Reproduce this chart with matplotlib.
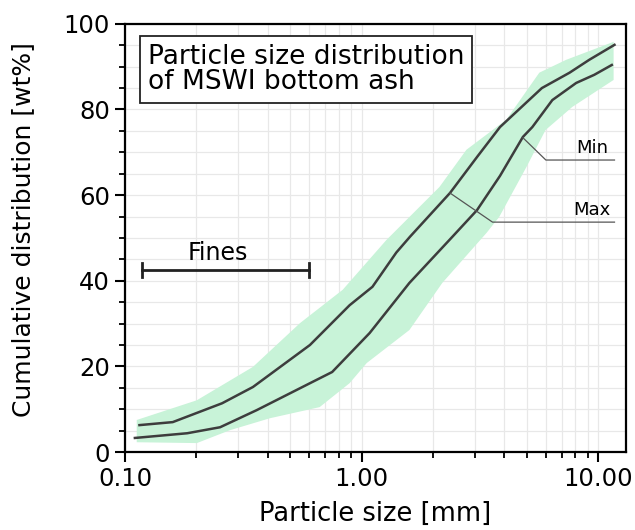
import numpy as np
import matplotlib
matplotlib.use("Agg")
import matplotlib.pyplot as plt
from matplotlib.ticker import FixedLocator, MultipleLocator, FuncFormatter, LogLocator

# curves
max_x = [0.115, 0.159, 0.257, 0.347, 0.604, 0.889, 1.11, 1.40, 1.60, 2.36, 3.07, 3.84, 5.77, 7.56, 9.15, 11.7]
max_y = [6.3, 7.0, 11.4, 15.2, 25.0, 34.3, 38.6, 46.6, 50.3, 60.5, 68.9, 75.9, 85.0, 88.6, 91.6, 95.1]

min_x = [0.11, 0.183, 0.252, 0.36, 0.6, 0.75, 1.08, 1.59, 2.39, 3.07, 3.84, 4.8, 5.26, 6.39, 8.06, 9.61, 11.4]
min_y = [3.3, 4.4, 5.8, 9.8, 16.0, 18.7, 27.8, 39.5, 50.0, 56.5, 64.5, 73.6, 75.9, 82.2, 86.2, 88.1, 90.4]

band_hi_x = [0.112, 0.201, 0.347, 0.548, 0.831, 1.27, 2.13, 2.77, 4.08, 5.63, 7.31, 11.6]
band_hi_y = [7.5, 12.1, 19.9, 30.1, 37.9, 49.5, 61.9, 70.6, 77.6, 88.6, 91.6, 95.8]
band_lo_x = [0.112, 0.201, 0.277, 0.409, 0.664, 0.889, 1.05, 1.59, 2.19, 3.37, 3.81, 4.97, 5.98, 7.76, 11.6]
band_lo_y = [2.3, 2.1, 5.1, 7.9, 10.5, 16.1, 20.8, 28.5, 39.5, 51.2, 54.9, 66.6, 75.2, 80.6, 86.9]

fines_range = [0.118, 0.6]
fines_level = 42.5

fig = plt.figure(figsize=(6.35, 5.3), dpi=100)
ax = fig.add_axes([0.197, 0.147, 0.789, 0.808])

# shaded envelope
bx = np.concatenate([band_hi_x, band_lo_x[::-1]])
by = np.concatenate([band_hi_y, band_lo_y[::-1]])
ax.fill(bx, by, color="#c8f3d8", lw=0, zorder=1)

ax.plot(max_x, max_y, color="#3d3d3d", lw=1.8, zorder=3)
ax.plot(min_x, min_y, color="#3d3d3d", lw=1.8, zorder=3)

ax.set_xscale("log")
ax.set_xlim(0.1, 13.1)
ax.set_ylim(0, 100)

ax.xaxis.set_major_locator(FixedLocator([0.1, 1, 10]))
ax.xaxis.set_minor_locator(LogLocator(base=10, subs=np.arange(2, 10)))
ax.xaxis.set_major_formatter(FuncFormatter(lambda v, p: "%.2f" % v))
ax.xaxis.set_minor_formatter(FuncFormatter(lambda v, p: ""))
ax.yaxis.set_major_locator(MultipleLocator(20))
ax.yaxis.set_minor_locator(MultipleLocator(5))

ax.grid(which="both", color="#e8e8e8", lw=0.9, zorder=0)
ax.set_axisbelow(True)
for s in ax.spines.values():
    s.set_linewidth(1.6)
ax.tick_params(which="major", direction="out", length=7, width=1.5, labelsize=17.5, pad=4)
ax.tick_params(which="minor", direction="out", length=4, width=1.3)

ax.set_xlabel("Particle size [mm]", fontsize=18.5, labelpad=7)
ax.set_ylabel("Cumulative distribution [wt%]", fontsize=18)
ax.yaxis.set_label_coords(-0.18, 0.52)

ax.text(0.045, 0.953, "Particle size distribution\nof MSWI bottom ash", transform=ax.transAxes,
        fontsize=19, va="top", ha="left", linespacing=0.95, zorder=5,
        bbox=dict(boxstyle="square,pad=0.3", fc="white", ec="#222222", lw=1.3))

# fines bracket
ax.plot(fines_range, [fines_level, fines_level], color="#222222", lw=2, zorder=4)
for fx in fines_range:
    ax.plot([fx, fx], [fines_level - 1.7, fines_level + 1.7], color="#222222", lw=2, zorder=4)
ax.text(0.247, fines_level + 1.2, "Fines", fontsize=17, ha="center", va="bottom")

# leaders
ax.plot([4.8, 6.0, 11.7], [73.4, 68.2, 68.2], color="#555555", lw=0.9, zorder=4)
ax.text(9.4, 68.9, "Min", fontsize=13, ha="center", va="bottom")
ax.plot([2.36, 3.57, 11.7], [60.5, 53.7, 53.7], color="#555555", lw=0.9, zorder=4)
ax.text(9.4, 54.4, "Max", fontsize=13, ha="center", va="bottom")

fig.savefig("out.png", dpi=100)
